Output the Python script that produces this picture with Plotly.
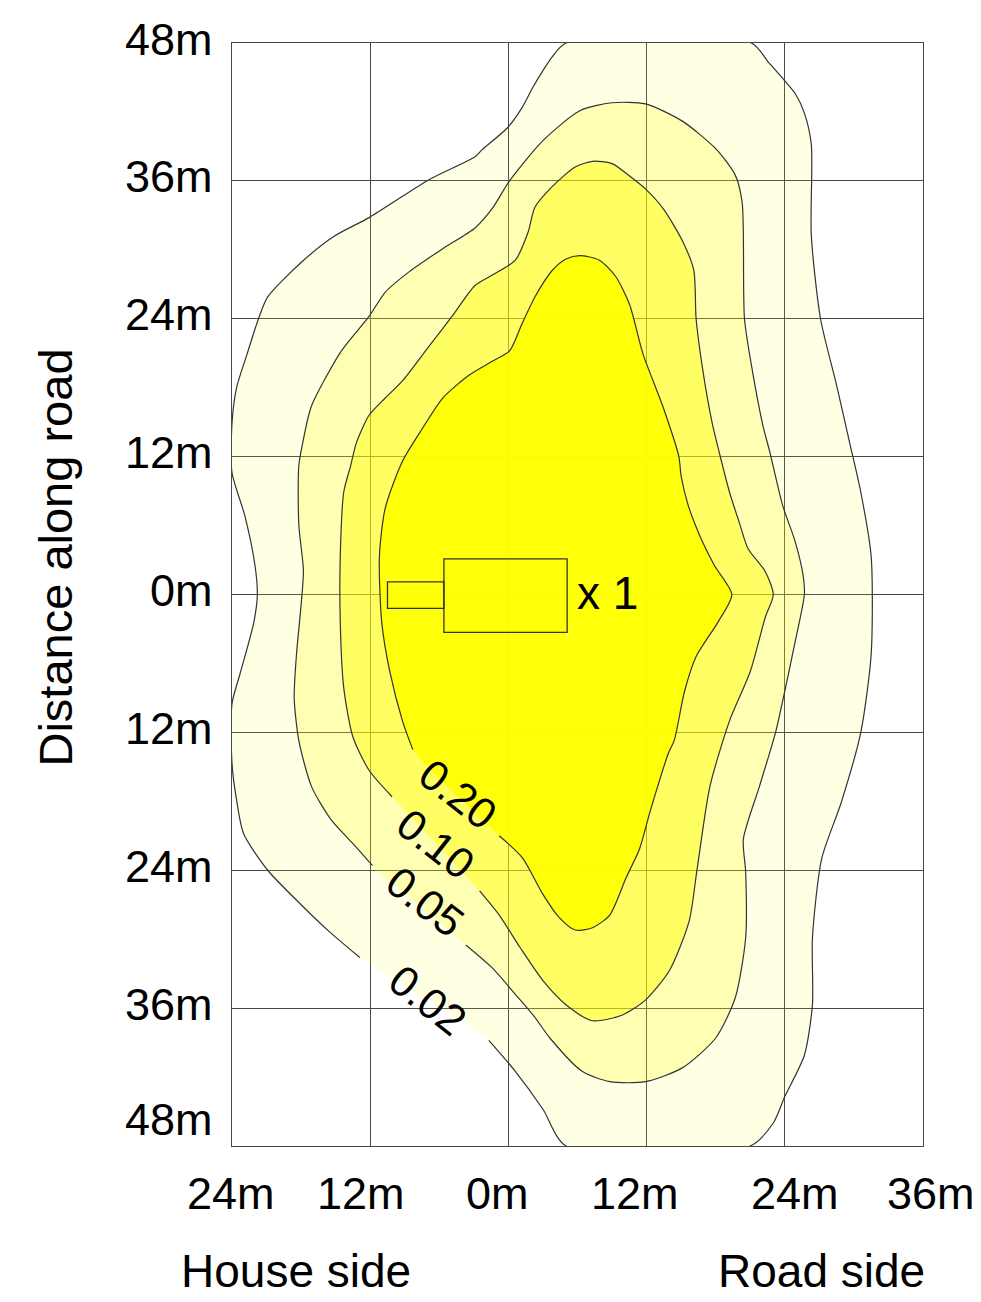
import plotly.graph_objects as go

# ---------------- data (metres) ----------------
levels = ["0.02", "0.05", "0.10", "0.20"]

# each contour is listed starting just after its label gap and running round to just before it
c002_x = [-1.7, 0.6, 3.0, 5.0, 21.0, 23.0, 24.0, 25.7, 26.4, 26.4, 27.2, 28.9, 30.6, 31.5, 31.5,
          30.6, 29.7, 28.5, 27.1, 26.3, 26.3, 25.7, 24.9, 24.0, 22.6, 21.1, 5.0, 3.8, 3.0, 2.1,
          1.2, -0.1, -2.3, -2.9, -6.9, -12.1, -15.1, -18.0, -20.9, -21.7, -22.7, -23.6, -24.0, -24.0,
          -22.9, -22.0, -21.8, -22.1, -23.3, -24.0, -24.0, -23.6, -23.0, -20.9, -18.0, -15.6, -12.9]
c002_y = [-38.8, -41.5, -44.8, -48.0, -48.0, -46.0, -43.7, -40.1, -35.7, -29.9, -23.0, -18.1, -12.0, -5.2, 3.3,
          8.9, 12.9, 18.2, 24.0, 31.3, 39.2, 41.9, 43.6, 44.7, 46.3, 48.0, 48.0, 46.8, 45.6, 44.1,
          42.4, 40.6, 38.7, 38.1, 36.1, 32.8, 31.2, 28.9, 25.9, 24.0, 20.9, 18.0, 14.9, 10.6,
          6.9, 2.5, 0.0, -2.4, -6.9, -9.5, -14.7, -17.9, -20.8, -24.0, -27.0, -29.3, -31.6]

c005_x = [-3.7, -1.4, 0.6, 2.3, 3.6, 6.4, 8.8, 11.9, 15.1, 18.0, 19.7, 20.6, 20.6, 20.4, 21.8,
          23.2, 24.0, 24.9, 25.7, 25.6, 24.9, 23.8, 22.7, 22.1, 21.2, 20.5, 20.3, 19.7, 18.0, 15.1,
          11.9, 9.0, 6.2, 3.0, 0.1, -1.4, -2.9, -5.7, -8.6, -10.7, -12.1, -14.5, -17.1, -17.8, -18.2,
          -18.2, -17.8, -18.0, -18.4, -18.6, -18.2, -17.1, -15.4, -13.3, -11.8]
c005_y = [-30.5, -32.5, -34.8, -36.8, -38.6, -41.5, -42.4, -42.4, -41.2, -38.6, -35.1, -29.9, -24.1, -21.3, -16.7,
          -12.0, -8.4, -4.1, 0.0, 1.6, 4.6, 7.8, 12.4, 14.7, 19.4, 24.0, 34.1, 36.5, 38.8, 41.2,
          42.7, 42.8, 42.1, 39.5, 36.0, 33.6, 31.9, 30.1, 28.1, 26.3, 24.2, 21.2, 16.4, 13.5, 11.2,
          6.1, 2.1, -0.9, -5.2, -9.0, -12.7, -16.7, -19.6, -21.9, -23.6]

c010_x = [-2.5, -0.8, 1.0, 3.0, 5.0, 7.3, 9.9, 11.9, 14.0, 15.7, 16.4, 17.5, 19.2, 21.0, 22.3,
          23.0, 22.3, 20.8, 20.1, 19.2, 18.3, 17.7, 16.9, 16.3, 16.1, 15.2, 13.5, 11.9, 10.8, 9.0,
          7.3, 5.8, 3.8, 2.3, 1.7, 0.6, -1.4, -2.9, -4.9, -6.9, -9.2, -10.7, -12.1, -13.2, -13.7,
          -14.3, -14.6, -14.6, -14.3, -13.5, -12.1, -10.1]
c010_y = [-25.8, -27.9, -30.7, -33.6, -35.7, -37.1, -36.6, -35.3, -32.7, -28.4, -23.8, -16.7, -11.0, -6.7, -2.0,
          0.0, 2.0, 4.0, 6.1, 8.9, 12.4, 14.9, 19.4, 24.0, 28.2, 30.6, 33.5, 35.3, 36.2, 37.5,
          37.7, 37.2, 35.5, 33.7, 31.5, 29.1, 27.8, 26.9, 24.2, 21.6, 18.6, 17.1, 15.6, 13.2, 11.2,
          8.9, 3.3, -2.4, -8.1, -12.4, -15.3, -17.6]

c020_x = [-0.8, 1.2, 3.0, 4.4, 5.8, 7.3, 8.8, 10.2, 11.4, 12.3, 13.9, 14.4, 15.3, 16.3, 18.2,
          19.4, 17.9, 16.8, 15.6, 15.0, 14.8, 13.4, 11.7, 10.5, 9.3, 7.9, 6.2, 5.0, 3.8, 2.3,
          1.2, 0.1, -1.4, -3.4, -5.7, -7.5, -9.2, -10.7, -11.2, -11.0, -10.3, -9.2, -8.3]
c020_y = [-21.0, -22.9, -26.1, -28.1, -29.2, -29.0, -27.9, -24.7, -22.1, -18.9, -13.8, -12.7, -8.4, -5.4, -2.4,
          0.0, 2.5, 4.7, 7.8, 10.3, 12.0, 16.4, 20.9, 25.3, 27.7, 29.1, 29.5, 29.2, 28.2, 25.9,
          23.6, 21.2, 20.3, 19.1, 17.1, 14.4, 11.6, 7.5, 3.3, -2.4, -6.7, -11.0, -13.5]

# contour-label anchor points (centre of each rotated label)
label_x = [-7.0, -7.2, -6.3, -4.4]
label_y = [-35.3, -26.8, -21.7, -17.4]

# building footprint
house_x = [-5.6, 5.1]
house_y = [-3.3, 3.1]
annex_x = [-10.5, -5.6]
annex_y = [-1.2, 1.1]
house_count = "x 1"

x_ticks = [-24, -12, 0, 12, 24, 36]
x_tick_text = ["24m", "12m", "0m", "12m", "24m", "36m"]
y_ticks = [48, 36, 24, 12, 0, -12, -24, -36, -48]
y_tick_text = ["48m", "36m", "24m", "12m", "0m", "12m", "24m", "36m", "48m"]

# ---------------- styling ----------------
FONT = "Liberation Sans, Arial, Helvetica, sans-serif"
fill_alpha = [0.106, 0.21, 0.444, 0.93]
line_col = "#333333"
grid_col = "#474747"

contours = [(c002_x, c002_y), (c005_x, c005_y), (c010_x, c010_y), (c020_x, c020_y)]

fig = go.Figure()

# fills (stacked, semi-transparent yellow)
for (cx, cy), a in zip(contours, fill_alpha):
    fig.add_trace(go.Scatter(
        x=cx + [cx[0]], y=cy + [cy[0]], mode="lines", fill="toself",
        fillcolor=f"rgba(255,255,0,{a})",
        line=dict(width=0, shape="spline", smoothing=0.7),
        hoverinfo="skip", showlegend=False))

# contour lines (open at the labels)
for cx, cy in contours:
    fig.add_trace(go.Scatter(
        x=cx, y=cy, mode="lines",
        line=dict(color=line_col, width=1.2, shape="spline", smoothing=0.7),
        hoverinfo="skip", showlegend=False))

# building outlines
for bx, by in [(house_x, house_y), (annex_x, annex_y)]:
    fig.add_shape(type="rect", xref="x", yref="y", x0=bx[0], x1=bx[1], y0=by[0], y1=by[1],
                  line=dict(color=line_col, width=1.3), fillcolor="rgba(0,0,0,0)", layer="above")

annotations = []
# contour labels
for t, lx, ly in zip(levels, label_x, label_y):
    annotations.append(dict(x=lx, y=ly, xref="x", yref="y", text=t, showarrow=False,
                            textangle=38, xanchor="center", yanchor="middle",
                            font=dict(family=FONT, size=43, color="black")))
# x 1
annotations.append(dict(x=house_x[1], y=0, xref="x", yref="y", text=house_count, showarrow=False,
                        xanchor="left", yanchor="middle", xshift=8, yshift=2,
                        font=dict(family=FONT, size=46, color="black")))
# y tick labels
for v, t in zip(y_ticks, y_tick_text):
    annotations.append(dict(x=0, y=v, xref="paper", yref="y", text=t, showarrow=False,
                            xanchor="right", yanchor="middle", xshift=-17,
                            yshift=(27 if v == -48 else 4),
                            font=dict(family=FONT, size=45, color="black")))
# x tick labels
x_shift = [-1, -9, -11, -12, 10, 8]
for v, t, s in zip(x_ticks, x_tick_text, x_shift):
    annotations.append(dict(x=v, y=0, xref="x", yref="paper", text=t, showarrow=False,
                            xanchor="center", yanchor="middle", xshift=s, yshift=-47,
                            font=dict(family=FONT, size=45, color="black")))
# side labels
annotations.append(dict(x=-18.4, y=0, xref="x", yref="paper", text="House side", showarrow=False,
                        xanchor="center", yanchor="middle", yshift=-125,
                        font=dict(family=FONT, size=46, color="black")))
annotations.append(dict(x=27.2, y=0, xref="x", yref="paper", text="Road side", showarrow=False,
                        xanchor="center", yanchor="middle", yshift=-125,
                        font=dict(family=FONT, size=46, color="black")))
# y title
annotations.append(dict(x=-0.255, y=3.2, xref="paper", yref="y", text="Distance along road",
                        showarrow=False, textangle=-90, xanchor="center", yanchor="middle",
                        font=dict(family=FONT, size=47, color="black")))

# the page body adds an 8px margin, so the figure is sized to fit inside the window
fig.update_layout(
    width=973, height=1294,
    margin=dict(l=224, r=58, t=35, b=156),
    paper_bgcolor="white", plot_bgcolor="white",
    annotations=annotations,
    xaxis=dict(range=[-24, 36], tickvals=x_ticks, showticklabels=False, ticks="",
               showgrid=True, gridcolor=grid_col, gridwidth=1.3, zeroline=False,
               showline=True, mirror=True, linecolor=grid_col, linewidth=1.3),
    yaxis=dict(range=[-48, 48], tickvals=y_ticks, showticklabels=False, ticks="",
               showgrid=True, gridcolor=grid_col, gridwidth=1.3, zeroline=False,
               showline=True, mirror=True, linecolor=grid_col, linewidth=1.3),
)

fig.write_html("out.html")
